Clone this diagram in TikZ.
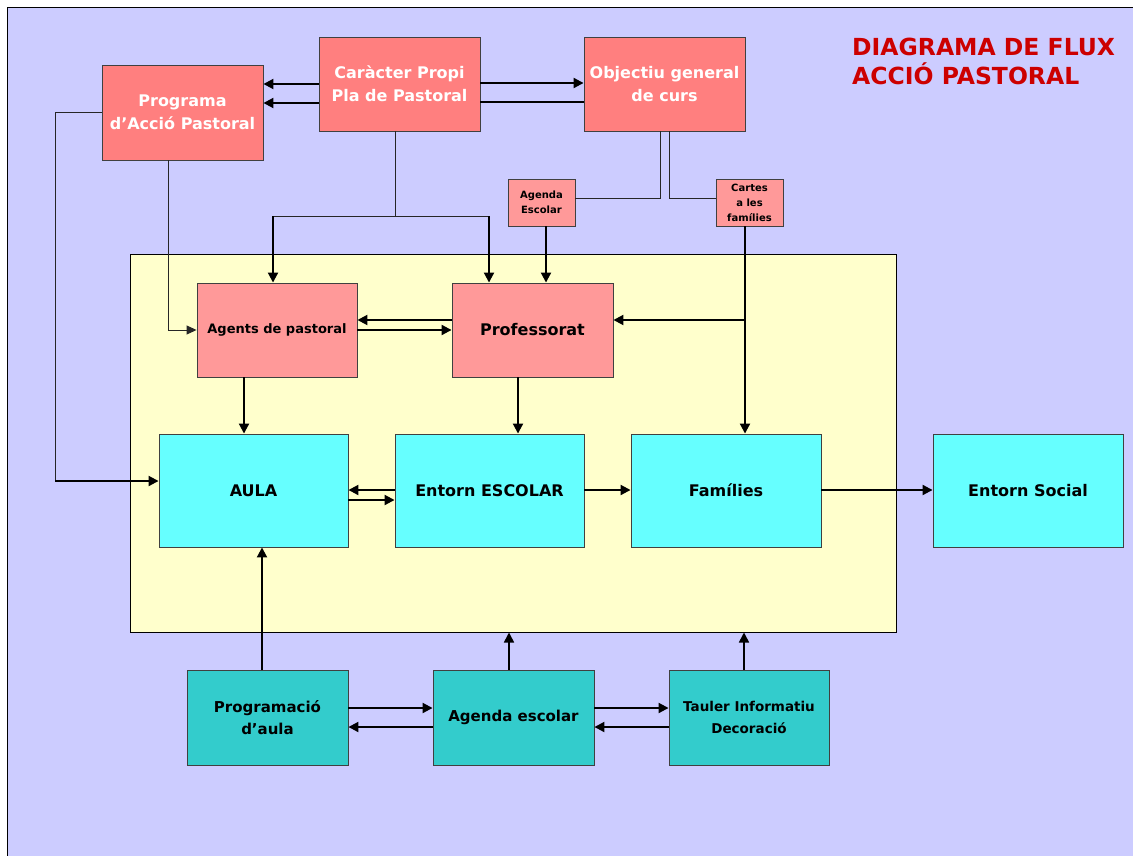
\documentclass[tikz,border=0pt]{standalone}
\usepackage{fontspec}
\setmainfont{DejaVu Sans}
\usetikzlibrary{arrows.meta}
\definecolor{topred}{HTML}{FF7F7F}
\definecolor{pinkbox}{HTML}{FF9999}
\definecolor{cyanbox}{HTML}{66FFFF}
\definecolor{tealbox}{HTML}{33CCCC}
\definecolor{lav}{HTML}{CCCCFF}
\definecolor{yel}{HTML}{FFFFCC}
\definecolor{titlered}{HTML}{CC0000}
\begin{document}
\begin{tikzpicture}[x=1pt,y=-1pt,
  bx/.style={draw=black!75, line width=0.9pt, align=center, inner sep=0pt},
  topbox/.style={bx, fill=topred, text=white, font=\fontsize{16}{23}\selectfont\bfseries},
  smallbox/.style={bx, fill=pinkbox, font=\fontsize{10}{15}\selectfont\bfseries},
  midbox/.style={bx, fill=pinkbox},
  cybox/.style={bx, fill=cyanbox, font=\fontsize{16}{20}\selectfont\bfseries},
  tbox/.style={bx, fill=tealbox, font=\fontsize{15}{22}\selectfont\bfseries},
  thinln/.style={line width=1pt, draw=black!85},
  thickln/.style={line width=2pt, draw=black},
  thinarr/.style={thinln, -{Triangle[length=10pt,width=9pt]}},
  thickarr/.style={thickln, -{Triangle[length=10pt,width=10pt]}}
]
\useasboundingbox (0,0) rectangle (1133,856);
\fill[white] (0,0) rectangle (1133,856);
\fill[lav] (7,8) rectangle (1133,856);
\draw[line width=1pt] (7,856) -- (7,8) -- (1133,8);

% title
\node[anchor=north west, align=left, inner sep=0pt, text=titlered,
  font=\fontsize{23.5}{29}\selectfont\bfseries] (title) at (852,38)
  {DIAGRAMA DE FLUX\\ACCIÓ PASTORAL};

% yellow panel
\node[draw=black, line width=1pt, fill=yel, minimum width=766pt, minimum height=378pt, inner sep=0pt] (panel) at (513,443) {};

% top boxes
\node[topbox, minimum width=161pt, minimum height=95pt] (prog) at (182.5,112.5) {Programa\\d’Acció Pastoral};
\node[topbox, minimum width=161pt, minimum height=94pt] (car) at (399.5,84) {Caràcter Propi\\Pla de Pastoral};
\node[topbox, minimum width=161pt, minimum height=94pt] (obj) at (664.5,84) {Objectiu general\\de curs};
\node[smallbox, minimum width=67pt, minimum height=47pt] (agE) at (541.5,202.5) {Agenda\\Escolar};
\node[smallbox, minimum width=67pt, minimum height=47pt] (cart) at (749.5,202.5) {Cartes\\a les\\famílies};

% middle boxes
\node[midbox, minimum width=160pt, minimum height=94pt, font=\fontsize{13}{16}\selectfont\bfseries] (agents) at (277,330) {Agents de pastoral};
\node[midbox, minimum width=161pt, minimum height=94pt, font=\fontsize{16}{20}\selectfont\bfseries] (prof) at (532.5,330) {Professorat};

\node[cybox, minimum width=189pt, minimum height=113pt] (aula) at (253.5,490.5) {AULA};
\node[cybox, minimum width=189pt, minimum height=113pt] (esc) at (489.5,490.5) {Entorn ESCOLAR};
\node[cybox, minimum width=190pt, minimum height=113pt] (fam) at (726,490.5) {Famílies};
\node[cybox, minimum width=190pt, minimum height=113pt] (soc) at (1028,490.5) {Entorn Social};

% bottom boxes
\node[tbox, minimum width=161pt, minimum height=95pt] (pa) at (267.5,717.5) {Programació\\d’aula};
\node[tbox, minimum width=161pt, minimum height=95pt] (age) at (513.5,717.5) {Agenda escolar};
\node[tbox, minimum width=160pt, minimum height=95pt, font=\fontsize{13.5}{22}\selectfont\bfseries] (tau) at (749,717.5) {Tauler Informatiu\\Decoració};

% coordinates
\coordinate (c1) at (55,481);
\coordinate (c2) at (273,216);
\coordinate (c3) at (489,216);
\coordinate (c4) at (745,320);

% connectors: top
\draw[thickarr] (car.west |- 0,84) -- (prog.east |- 0,84);
\draw[thickarr] (car.west |- 0,103) -- (prog.east |- 0,103);
\draw[thickarr] (car.east |- 0,83) -- (obj.west |- 0,83);
\draw[thickln] (car.east |- 0,102) -- (obj.west |- 0,102);

\draw[thinln] (prog.west |- 0,113) -| (c1);
\draw[thickarr] (c1) -- (aula.west |- 0,481);
\draw[thinarr] (prog.south -| 168,0) |- (agents.west |- 0,330);

\draw[thinln] (car.south -| 395,0) -- (395,216);
\draw[thinln] (c2) -- (c3);
\draw[thickarr] (c2) -- (agents.north -| 273,0);
\draw[thickarr] (c3) -- (prof.north -| 489,0);

\draw[thinln] (obj.south -| 660,0) |- (agE.east |- 0,198);
\draw[thinln] (obj.south -| 669,0) |- (cart.west |- 0,198);
\draw[thickarr] (agE.south -| 546,0) -- (prof.north -| 546,0);
\draw[thickarr] (cart.south -| 745,0) -- (fam.north -| 745,0);
\draw[thickarr] (c4) -- (prof.east |- 0,320);

% middle
\draw[thickarr] (prof.west |- 0,320) -- (agents.east |- 0,320);
\draw[thickarr] (agents.east |- 0,330) -- (prof.west |- 0,330);
\draw[thickarr] (agents.south -| 244,0) -- (aula.north -| 244,0);
\draw[thickarr] (prof.south -| 518,0) -- (esc.north -| 518,0);
\draw[thickarr] (esc.west |- 0,490) -- (aula.east |- 0,490);
\draw[thickarr] (aula.east |- 0,500) -- (esc.west |- 0,500);
\draw[thickarr] (esc.east |- 0,490) -- (fam.west |- 0,490);
\draw[thickarr] (fam.east |- 0,490) -- (soc.west |- 0,490);

% bottom
\draw[thickarr] (pa.north -| 262,0) -- (aula.south -| 262,0);
\draw[thickarr, line width=1.6pt] (age.north -| 509,0) -- (panel.south -| 509,0);
\draw[thickarr, line width=1.6pt] (tau.north -| 744,0) -- (panel.south -| 744,0);
\draw[thickarr] (pa.east |- 0,708) -- (age.west |- 0,708);
\draw[thickarr] (age.west |- 0,727) -- (pa.east |- 0,727);
\draw[thickarr] (age.east |- 0,708) -- (tau.west |- 0,708);
\draw[thickarr] (tau.west |- 0,727) -- (age.east |- 0,727);
\end{tikzpicture}
\end{document}
